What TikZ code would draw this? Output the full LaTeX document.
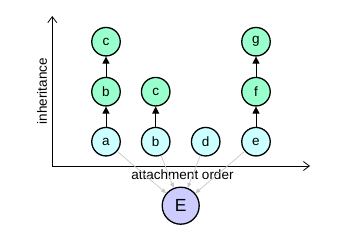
\documentclass[tikz,border=0pt]{standalone}
\usepackage{fontspec}
\setmainfont{Liberation Sans}
\usetikzlibrary{arrows.meta}
\definecolor{grn}{HTML}{99FFCC}
\definecolor{cyn}{HTML}{CCFFFF}
\definecolor{lav}{HTML}{CCCCFF}
\begin{document}
\begin{tikzpicture}[x=1pt,y=-1pt,
  nd/.style={circle,draw=black,line width=1.3pt,minimum size=28.5pt,inner sep=0pt,font=\fontsize{13.5}{15}\selectfont},
  gn/.style={nd,fill=grn},
  cn/.style={nd,fill=cyn},
  inh/.style={-{Triangle[length=7pt,width=7pt]},line width=0.8pt},
  att/.style={-{Triangle[length=5pt,width=4pt]},draw=black!22,line width=0.7pt},
  ax/.style={-{Straight Barb[length=6pt,width=9pt]},line width=0.8pt},
  lbl/.style={font=\fontsize{13.5}{15}\selectfont,inner sep=0pt}]
\useasboundingbox (0,0) rectangle (351,238);
\coordinate (o) at (52.3,166);
\coordinate (yt) at (52.3,16);
\coordinate (xt) at (310,166);
\draw[ax] (o) -- (yt);
\draw[ax] (o) -- (xt);
\node[rotate=90,lbl] (yl) at (42,91) {inheritance};
\node[lbl] (xl) at (182.5,175) {attachment order};
\node[cn] (a) at (106,141.7) {a};
\node[cn] (b2) at (155.7,141.7) {b};
\node[cn] (d) at (205.7,141.7) {d};
\node[cn] (e) at (256,141.7) {e};
\node[gn] (b1) at (106,91.7) {b};
\node[gn] (c2) at (155.7,91.7) {c};
\node[gn] (f) at (256,91.7) {f};
\node[gn] (c1) at (106,41.7) {c};
\node[gn] (g) at (256,41.7) {g};
\node[nd,fill=lav,minimum size=37pt,font=\fontsize{17.5}{19}\selectfont] (E) at (180.7,205.7) {E};
\draw[inh] (a) -- (b1);
\draw[inh] (b1) -- (c1);
\draw[inh] (b2) -- (c2);
\draw[inh] (e) -- (f);
\draw[inh] (f) -- (g);
\draw[att] (a) -- (E);
\draw[att] (b2) -- (E);
\draw[att] (d) -- (E);
\draw[att] (e) -- (E);
\end{tikzpicture}
\end{document}
